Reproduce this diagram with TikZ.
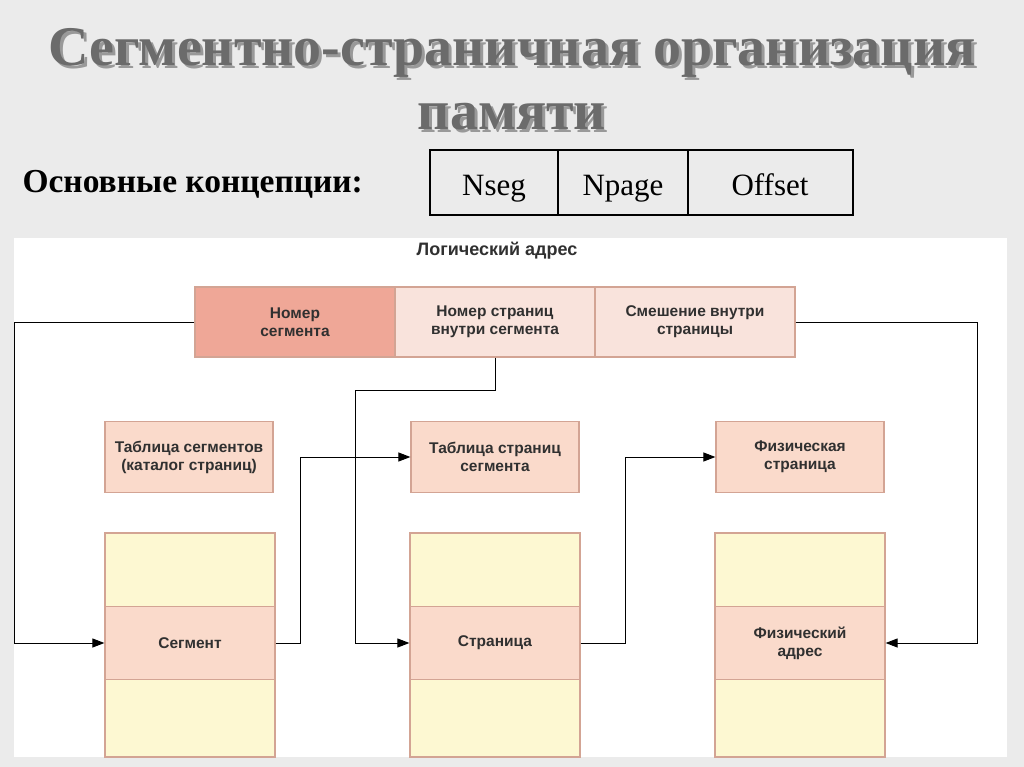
\documentclass[tikz,border=0pt]{standalone}
\usepackage{fontspec}
\setmainfont{Liberation Serif}
\newfontfamily\diagfont{Liberation Sans}
\usetikzlibrary{arrows.meta}
\definecolor{slidebg}{HTML}{EBEBEB}
\definecolor{dark}{HTML}{EFA797}
\definecolor{light}{HTML}{F9E3DC}
\definecolor{peach}{HTML}{FADACB}
\definecolor{pale}{HTML}{FDF8D2}
\definecolor{edge}{HTML}{D3A494}
\definecolor{txt}{HTML}{303030}
\begin{document}
\begin{tikzpicture}[x=1pt,y=-1pt,
  dfont/.style={text=txt,font=\diagfont\bfseries\fontsize{15.5}{18}\selectfont},
  cell/.style={dfont,draw=edge,line width=1.2pt,minimum height=70pt,minimum width=200pt,inner sep=0pt,align=center},
  tbl/.style={dfont,draw=edge,fill=peach,line width=1.2pt,minimum height=71pt,minimum width=168pt,inner sep=0pt,align=center},
  col/.style={draw=edge,fill=pale,line width=1.2pt,minimum height=224pt,minimum width=170pt,inner sep=0pt},
  band/.style={dfont,draw=edge,fill=peach,line width=1.2pt,minimum height=73pt,minimum width=170pt,inner sep=0pt,align=center},
  conn/.style={line width=1pt,-{Triangle[length=12pt,width=9pt]}}]
\useasboundingbox (0,0) rectangle (1024,767);
\fill[slidebg] (0,0) rectangle (1024,767);
\fill[white] (14,238) rectangle (1007,757);
% title
\foreach \dx/\c in {3/black!40,0/black!58}{
\node[text=\c,font=\bfseries\fontsize{56}{64}\selectfont,align=center] at (512+\dx,79+\dx) {Сегментно-страничная организация\\памяти};}
\node[anchor=west,font=\bfseries\fontsize{33.5}{36}\selectfont] (conc) at (19,184) {Основные концепции:};
\draw[line width=2pt] (430,150) rectangle (853,215);
\draw[line width=2pt] (558,150) -- (558,215) (688,150) -- (688,215);
\node[font=\fontsize{31}{32}\selectfont,anchor=base] (ns) at (494,196) {Nseg};
\node[font=\fontsize{31}{32}\selectfont,anchor=base] (np) at (623,196) {Npage};
\node[font=\fontsize{31}{32}\selectfont,anchor=base] (of) at (770,196) {Offset};
% diagram
\node[dfont,font=\diagfont\bfseries\fontsize{18}{20}\selectfont] (la) at (497,251) {Логический адрес};
\node[cell,fill=dark] (c1) at (295,322) {Номер\\сегмента};
\node[cell,fill=light] (c2) at (495,322) {Номер страниц\\внутри сегмента};
\node[cell,fill=light] (c3) at (695,322) {Смешение внутри\\страницы};
\node[tbl] (t1) at (189,457) {Таблица сегментов\\(каталог страниц)};
\node[tbl] (t2) at (495,457) {Таблица страниц\\сегмента};
\node[tbl] (t3) at (800,457) {Физическая\\страница};
\node[col] (k1) at (190,645) {};
\node[col] (k2) at (495,645) {};
\node[col] (k3) at (800,645) {};
\node[band] (b1) at (190,643) {Сегмент};
\node[band] (b2) at (495,643) {Страница};
\node[band] (b3) at (800,643) {Физический\\адрес};
\draw[conn] (c1.west) -- (14,322) -- (14,643) -- (b1.west);
\draw[conn] (b1.east) -- (300,643) -- (300,457) -- (t2.west);
\draw[conn] (c2.south) -- (495,390) -- (355,390) -- (355,643) -- (b2.west);
\draw[conn] (b2.east) -- (625,643) -- (625,457) -- (t3.west);
\draw[conn] (c3.east) -- (977,322) -- (977,643) -- (b3.east);
\end{tikzpicture}
\end{document}
